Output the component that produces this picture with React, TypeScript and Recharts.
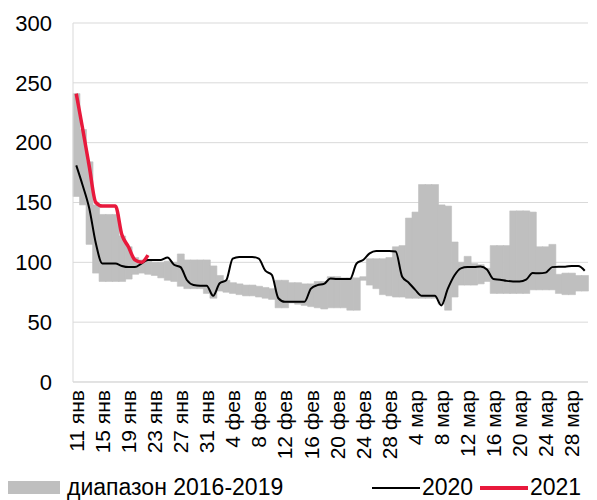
import { ComposedChart, Bar, Line, XAxis, YAxis, CartesianGrid } from 'recharts';

// x categories: 11 Jan .. 30 Mar, one per day
const MONTHS = ['янв', 'фев', 'мар'];
const MONTH_DAYS: Array<[number, number]> = [
  [11, 31],
  [1, 28],
  [1, 30],
];
const DATES: string[] = MONTH_DAYS.flatMap(([from, to], m) => {
  const out: string[] = [];
  for (let d = from; d <= to; d++) out.push(`${d} ${MONTHS[m]}`);
  return out;
});

const Y_TICKS = [0, 50, 100, 150, 200, 250, 300];

// 2016-2019 range (min / max)
const RANGE_MIN = [
  155, 148, 115, 91, 84, 84, 84, 84, 86, 90, 91, 90, 89, 87, 85, 84, 80, 78, 78, 78,
  74, 70, 76, 75, 74, 73, 72, 72, 71, 70, 69, 62, 62, 66, 65, 64, 63, 62, 61, 62,
  62, 62, 60, 60, 85, 81, 78, 73, 72, 71, 71, 70, 70, 70, 70, 70, 65, 60, 71, 81,
  81, 81, 82, 84, 74, 74, 74, 74, 74, 74, 77, 77, 77, 77, 74, 73, 73, 76, 76,
];
const RANGE_MAX = [
  241, 211, 184, 148, 140, 140, 140, 122, 113, 104, 102, 101, 100, 100, 101, 100, 107, 102, 102, 102,
  102, 97, 89, 85, 83, 82, 81, 81, 80, 79, 78, 85, 85, 83, 83, 82, 82, 84, 84, 88,
  88, 87, 87, 87, 88, 103, 103, 103, 104, 113, 114, 137, 142, 165, 165, 165, 148, 147, 117, 100,
  105, 99, 98, 95, 114, 114, 114, 143, 143, 143, 142, 113, 113, 115, 90, 91, 91, 89, 89,
];

const SERIES_2020 = [
  181, 164, 145, 116, 99, 99, 99, 97, 96, 96, 99, 102, 102, 102, 104, 98, 96, 85, 81, 80.5,
  80.5, 72, 82.5, 85, 103, 104.5, 104.5, 104.5, 103, 93, 89.5, 70, 67, 67, 67, 67, 78, 81, 82, 86.5,
  86, 86, 86, 99, 102, 107.5, 109.5, 109.5, 109.5, 109, 88, 83, 77, 72, 72, 72, 64, 78, 89, 95,
  96, 96, 96.5, 94, 86, 85.5, 84.5, 84, 84, 85.5, 91, 90.8, 91.4, 96, 96.4, 96.4, 97, 97, 93,
];

const SERIES_2021 = [241, 211, 180, 150, 147, 147, 147, 123, 113, 102, 100, 106];

const FONT = '"Liberation Sans", Arial, sans-serif';
const GRID = '#D9D9D9';
const RANGE_FILL = '#BFBFBF';
const RED = '#E8193C';

const data = DATES.map((date, i) => ({
  date,
  base: RANGE_MIN[i],
  span: RANGE_MAX[i] - RANGE_MIN[i],
  y2020: SERIES_2020[i],
  y2021: i < SERIES_2021.length ? SERIES_2021[i] : null,
}));

function DateTick({ x, y, payload }: any) {
  return (
    <g transform={`translate(${x},${y})`}>
      <text
        x={0}
        y={0}
        dy="0.36em"
        textAnchor="end"
        transform="rotate(-90)"
        fill="#000"
        fontSize={21}
        fontFamily={FONT}
      >
        {payload.value}
      </text>
    </g>
  );
}

function LegendRow() {
  const text = { fontFamily: FONT, fontSize: 23, color: '#000', lineHeight: '22px', whiteSpace: 'nowrap' as const };
  return (
    <div style={{ position: 'absolute', left: 0, top: 476, width: 597, height: 22 }}>
      <div style={{ position: 'absolute', left: 8, top: 5, width: 52, height: 13, background: RANGE_FILL }} />
      <div style={{ position: 'absolute', left: 67, top: 0, ...text }}>диапазон 2016-2019</div>
      <div style={{ position: 'absolute', left: 372, top: 11, width: 48, height: 2, background: '#000' }} />
      <div style={{ position: 'absolute', left: 422, top: 0, ...text }}>2020</div>
      <div style={{ position: 'absolute', left: 480, top: 10, width: 48, height: 4, background: RED }} />
      <div style={{ position: 'absolute', left: 530, top: 0, ...text }}>2021</div>
    </div>
  );
}

export default function App() {
  return (
    <div style={{ position: 'absolute', left: 0, top: 0, width: 597, height: 500, background: '#fff', overflow: 'hidden' }}>
      <ComposedChart
        width={597}
        height={500}
        data={data}
        margin={{ top: 23, right: 9, left: 0, bottom: 0 }}
        barCategoryGap={0}
        barGap={0}
      >
        <CartesianGrid vertical={false} stroke={GRID} strokeWidth={1} />
        <XAxis
          dataKey="date"
          interval={3}
          height={118}
          stroke={GRID}
          tickLine={false}
          tickSize={0}
          tickMargin={8}
          tick={<DateTick />}
        />
        <YAxis
          width={73}
          domain={[0, 300]}
          ticks={Y_TICKS}
          stroke={GRID}
          tickLine={false}
          tickSize={0}
          tickMargin={21}
          tick={{ fill: '#000', fontSize: 22, fontFamily: FONT }}
        />
        <Bar dataKey="base" stackId="range" fill="transparent" isAnimationActive={false} />
        <Bar
          dataKey="span"
          stackId="range"
          fill={RANGE_FILL}
          stroke={RANGE_FILL}
          strokeWidth={0.6}
          isAnimationActive={false}
        />
        <Line
          type="monotone"
          dataKey="y2020"
          stroke="#000"
          strokeWidth={2}
          dot={false}
          isAnimationActive={false}
        />
        <Line
          type="monotone"
          dataKey="y2021"
          stroke={RED}
          strokeWidth={3.5}
          dot={false}
          connectNulls={false}
          isAnimationActive={false}
        />
      </ComposedChart>
      <LegendRow />
    </div>
  );
}
